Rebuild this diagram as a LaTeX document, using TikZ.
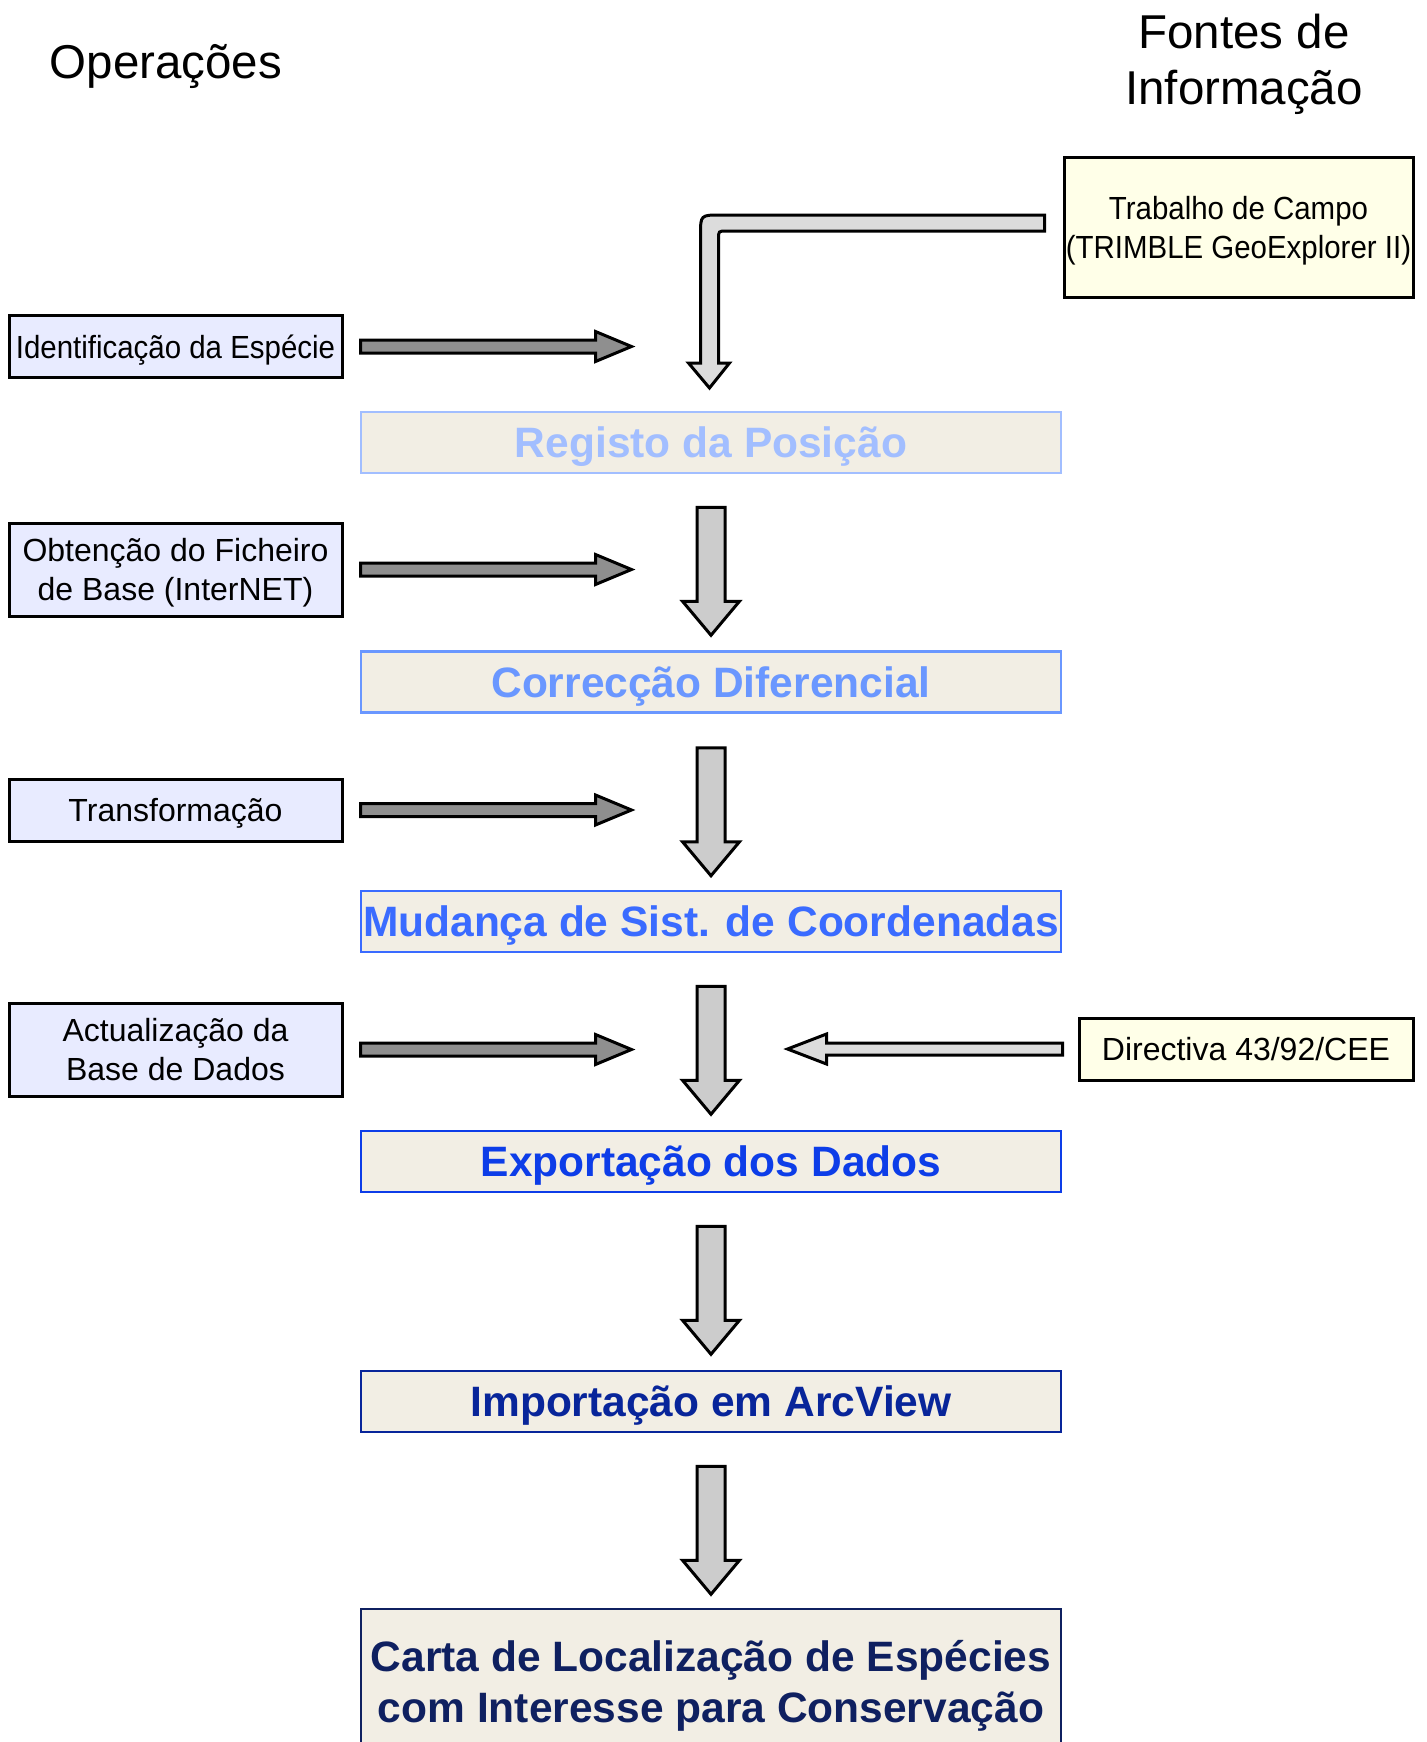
\documentclass[tikz,border=0pt]{standalone}
\usepackage{fontspec}
\setmainfont{Liberation Sans}
\usetikzlibrary{calc}
\definecolor{opfill}{HTML}{E8EBFF}
\definecolor{srcfill}{HTML}{FFFFE8}
\definecolor{stepfill}{HTML}{F2EEE4}
\definecolor{regcol}{HTML}{A2BEFF}
\definecolor{corcol}{HTML}{6A97FF}
\definecolor{mudcol}{HTML}{3A6BFF}
\definecolor{expcol}{HTML}{0D3DE8}
\definecolor{impcol}{HTML}{08259A}
\definecolor{cartcol}{HTML}{0F2060}
\definecolor{opgray}{HTML}{8F8F8F}
\definecolor{downgray}{HTML}{CCCCCC}
\definecolor{srcgray}{HTML}{DCDCDC}
\newcommand{\narrow}[1]{\scalebox{0.92}[1]{#1}}

\begin{document}
\begin{tikzpicture}[x=0.5pt, y=-0.5pt,
  title/.style={font=\fontsize{23.75}{28}\selectfont, align=center,
    text height=17pt, text depth=0pt},
  opbox/.style={draw, line width=1.5pt, fill=opfill, minimum width=166.5pt,
    minimum height=31pt, inner sep=0pt, align=center,
    text height=11.5pt, text depth=0pt,
    font=\fontsize{16}{19.5}\selectfont},
  twolines/.style={minimum height=46.5pt, text height=31pt},
  srcbox/.style={opbox, fill=srcfill},
  stepbox/.style={draw=#1, text=#1, line width=1.25pt, fill=stepfill,
    minimum width=350pt, minimum height=30.5pt, inner sep=0pt, align=center,
    text height=15.2pt, text depth=0pt,
    font=\fontsize{21.25}{25.5}\selectfont\bfseries},
  blockline/.style={line width=1.5pt, line join=miter},
  pics/downarrow/.style={code={
    \draw[blockline, fill=downgray] (-14,0) -- (14,0) -- (14,94) -- (28.5,94)
      -- (0,128) -- (-28.5,94) -- (-14,94) -- cycle;}},
  pics/oparrow/.style={code={
    \draw[blockline, fill=opgray] (0,-6.5) -- (235,-6.5) -- (235,-15)
      -- (271,0) -- (235,15) -- (235,6.5) -- (0,6.5) -- cycle;}},
  pics/srcarrow/.style={code={
    \draw[blockline, fill=srcgray] (0,-6) -- (-236,-6) -- (-236,-15)
      -- (-275,0) -- (-236,15) -- (-236,6) -- (0,6) -- cycle;}}]
  \useasboundingbox (0,0) rectangle (1426,1742);

  % column titles
  \node[title] (ops) at (166,61) {Operações};
  \node[title, text height=45pt] (fontes) at (1244,59) {Fontes de\\Informação};

  % main sequence of steps
  \node[stepbox=regcol] (reg) at (711,442.5) {Registo da Posição};
  \node[stepbox=corcol] (cor) at (711,682) {Correcção Diferencial};
  \node[stepbox=mudcol] (mud) at (711,921.5) {Mudança de Sist. de Coordenadas};
  \node[stepbox=expcol] (exp) at (711,1161.5) {Exportação dos Dados};
  \node[stepbox=impcol] (imp) at (711,1401.5) {Importação em ArcView};
  \node[stepbox=cartcol, minimum height=72.5pt, text height=40.7pt] (cart)
    at (711,1681.5) {Carta de Localização de Espécies\\com Interesse para Conservação};

  % operations on the left
  \node[opbox] (iden) at (175.5,346.5) {\narrow{Identificação da Espécie}};
  \node[opbox, twolines] (obt) at (175.5,569.5)
    {Obtenção do Ficheiro\\de Base (InterNET)};
  \node[opbox] (trans) at (175.5,810) {Transformação};
  \node[opbox, twolines] (act) at (175.5,1049.5)
    {Actualização da\\Base de Dados};

  % sources on the right
  \node[srcbox, twolines, minimum width=174.5pt, minimum height=70pt] (trab)
    at (1238.5,227) {\narrow{Trabalho de Campo}\\\narrow{(TRIMBLE GeoExplorer II)}};
  \node[srcbox, minimum width=167pt] (dir) at (1246,1049) {Directiva 43/92/CEE};

  % arrows down the sequence
  \pic at ($(reg.south)+(0,33)$) {downarrow};
  \pic at ($(cor.south)+(0,34)$) {downarrow};
  \pic at ($(mud.south)+(0,33)$) {downarrow};
  \pic at ($(exp.south)+(0,33)$) {downarrow};
  \pic at ($(imp.south)+(0,33)$) {downarrow};

  % arrows from the operations
  \pic at ($(iden.east)+(17,0)$) {oparrow};
  \pic at ($(obt.east)+(17,0)$) {oparrow};
  \pic at ($(trans.east)+(17,0)$) {oparrow};
  \pic at ($(act.east)+(17,0)$) {oparrow};

  % arrows from the sources
  \pic at ($(dir.west)+(-15,0)$) {srcarrow};
  \begin{scope}[shift={(trab.west)}]
    \draw[blockline, fill=srcgray] (-18,-12) -- (-342,-12)
      .. controls (-362,-12) .. (-362,8) -- (-362,136) -- (-374,136)
      -- (-353,161) -- (-333,136) -- (-344,136) -- (-344,12)
      .. controls (-344,4) .. (-336,4) -- (-18,4) -- cycle;
  \end{scope}
\end{tikzpicture}
\end{document}
